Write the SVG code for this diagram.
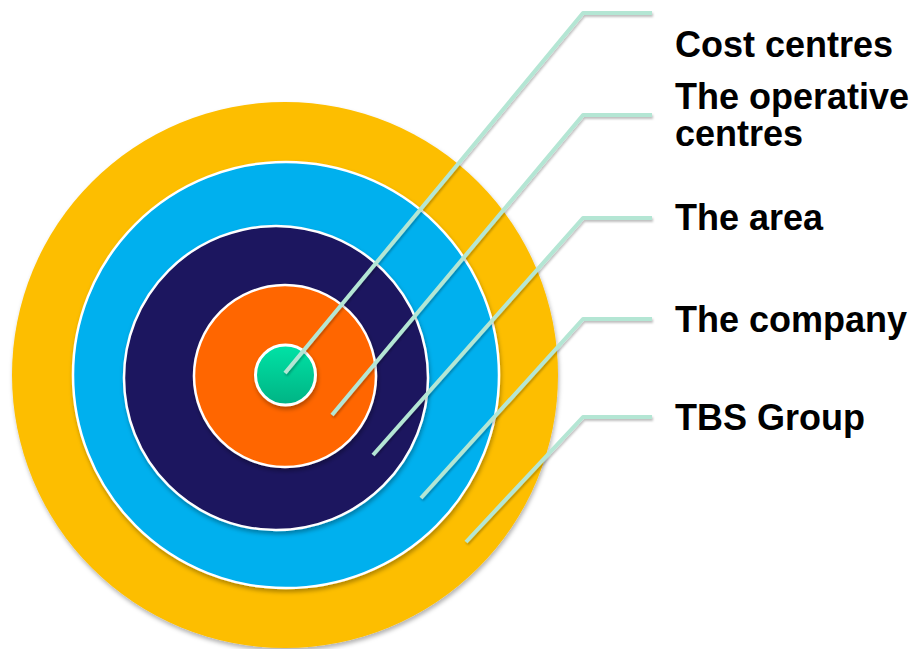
<svg xmlns="http://www.w3.org/2000/svg" width="920" height="649" viewBox="0 0 920 649">
  <defs>
    <filter id="shadow" x="-10%" y="-10%" width="120%" height="125%">
      <feDropShadow dx="1" dy="3" stdDeviation="2" flood-color="#000" flood-opacity="0.3"/>
    </filter>
    <filter id="lineShadow" x="-10%" y="-10%" width="120%" height="120%">
      <feDropShadow dx="1" dy="2" stdDeviation="1" flood-color="#000" flood-opacity="0.25"/>
    </filter>
    <linearGradient id="greenFill" x1="0" y1="0" x2="0" y2="1">
      <stop offset="0" stop-color="#00E3A6"/>
      <stop offset="1" stop-color="#00B384"/>
    </linearGradient>
  </defs>
  <style>
    .ring { stroke: #ffffff; stroke-width: 2.5; filter: url(#shadow); }
    .ring.outer { stroke: none; }
    .ring.core { stroke-width: 3; }
    .leader { fill: none; stroke: #B4E6D4; stroke-width: 4; stroke-linejoin: round; filter: url(#lineShadow); }
    .label { font-family: "Liberation Sans", Arial, sans-serif; font-weight: bold; font-size: 36px; fill: #000000; }
  </style>

  <!-- Concentric rings, outermost first -->
  <g id="ring-group">
    <circle class="ring outer" cx="285" cy="375" r="273" fill="#FDBE00"/>
  </g>
  <g id="ring-company">
    <circle class="ring" cx="286" cy="375" r="213" fill="#00B0EE"/>
  </g>
  <g id="ring-area">
    <circle class="ring" cx="276" cy="378" r="152" fill="#1A175E"/>
  </g>
  <g id="ring-operative">
    <circle class="ring" cx="285" cy="376" r="91" fill="#FF6600"/>
  </g>
  <g id="ring-cost">
    <circle class="ring core" cx="285.5" cy="375" r="30" fill="url(#greenFill)"/>
  </g>

  <!-- Leader lines from each ring to its label -->
  <g id="connectors">
    <polyline class="leader" points="652,13 583,13 285,373"/>
    <polyline class="leader" points="652,115 583,115 332,415"/>
    <polyline class="leader" points="652,218 583,218 373,455"/>
    <polyline class="leader" points="652,319 583,319 421,498"/>
    <polyline class="leader" points="652,417 583,417 466,542"/>
  </g>

  <!-- Labels -->
  <g id="label-cost">
    <text class="label" x="675" y="57">Cost centres</text>
  </g>
  <g id="label-operative">
    <text class="label" x="675" y="109">The operative</text>
    <text class="label" x="675" y="146">centres</text>
  </g>
  <g id="label-area">
    <text class="label" x="675" y="230">The area</text>
  </g>
  <g id="label-company">
    <text class="label" x="675" y="332">The company</text>
  </g>
  <g id="label-tbs">
    <text class="label" x="675" y="430">TBS Group</text>
  </g>
</svg>
